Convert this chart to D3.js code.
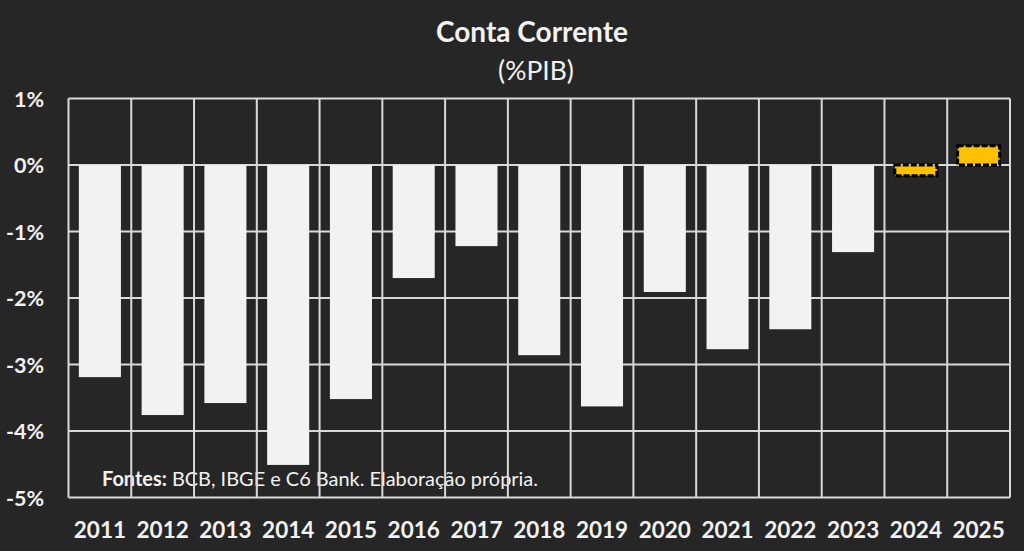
<!DOCTYPE html>
<html>
<head>
<meta charset="utf-8">
<script src="https://cdn.jsdelivr.net/npm/d3@7"></script>
<style>
html,body{margin:0;padding:0;background:#262626;}
svg{display:block;}
</style>
</head>
<body>
<svg id="chart" width="1024" height="551"></svg>
<script>
const years = ["2011","2012","2013","2014","2015","2016","2017","2018","2019","2020","2021","2022","2023","2024","2025"];
const values = [-3.19,-3.76,-3.58,-4.51,-3.52,-1.70,-1.22,-2.86,-3.63,-1.91,-2.77,-2.47,-1.31,-0.16,0.29];
const projected = [false,false,false,false,false,false,false,false,false,false,false,false,false,true,true];
const yTicks = [1,0,-1,-2,-3,-4,-5];
const title = "Conta Corrente";
const subtitle = "(%PIB)";
const sourceBold = "Fontes:";
const sourceText = " BCB, IBGE e C6 Bank. Elaboração própria.";

(function(){
const font = "Lato, 'Open Sans', sans-serif";
const svg = d3.select("#chart");
const W = 1024, H = 551;
svg.append("rect").attr("width",W).attr("height",H).attr("fill","#262626");

const pLeft = 68.5, pRight = 1010, pTop = 98.5, pBottom = 497.5;
const x = d3.scaleBand().domain(years).range([pLeft,pRight]).paddingInner(0.33).paddingOuter(0.165);
const xb = d3.scaleBand().domain(years).range([pLeft,pRight]);
const y = d3.scaleLinear().domain([-5,1]).range([pBottom,pTop]);

// title
svg.append("text").attr("x",532).attr("y",42).attr("text-anchor","middle")
  .attr("fill","#f2f2f2").attr("font-family",font).attr("font-weight","bold").attr("font-size",28).text(title);
svg.append("text").attr("x",536).attr("y",80).attr("text-anchor","middle")
  .attr("fill","#f2f2f2").attr("font-family",font).attr("font-size",26.5).text(subtitle);

// source (under gridlines)
const src = svg.append("text").attr("x",102).attr("y",486).attr("fill","#f2f2f2")
  .attr("font-family",font).attr("font-size",20).attr("textLength",436).attr("lengthAdjust","spacingAndGlyphs");
src.append("tspan").attr("font-weight","bold").text(sourceBold);
src.append("tspan").text(sourceText);

// grid
const gridColor = "#d9d9d9";
svg.append("g").selectAll("line").data(yTicks).join("line")
  .attr("x1",pLeft).attr("x2",pRight).attr("y1",d=>y(d)).attr("y2",d=>y(d))
  .attr("stroke",gridColor).attr("stroke-width",2);
const vlines = years.map(d=>xb(d)).concat([pRight]);
svg.append("g").selectAll("line").data(vlines).join("line")
  .attr("x1",d=>d).attr("x2",d=>d).attr("y1",pTop).attr("y2",pBottom)
  .attr("stroke",gridColor).attr("stroke-width",2);

// bars
svg.append("g").selectAll("rect").data(years).join("rect")
  .attr("x",d=>x(d)).attr("width",x.bandwidth())
  .attr("y",(d,i)=>y(Math.max(0,values[i])))
  .attr("height",(d,i)=>Math.abs(y(values[i])-y(0)))
  .attr("fill",(d,i)=>projected[i]?"#ffc000":"#f2f2f2")
  .attr("stroke",(d,i)=>projected[i]?"#000":"none")
  .attr("stroke-width",3)
  .attr("stroke-dasharray",(d,i)=>projected[i]?"6,2":null);

// y axis labels
const yAxis = d3.axisLeft(y).tickValues(yTicks).tickFormat(d=>d+"%").tickSize(0).tickPadding(0);
const ya = svg.append("g").attr("transform","translate(44,0)").call(yAxis);
ya.select(".domain").remove();
ya.selectAll("text").attr("fill","#f2f2f2").attr("font-family",font).attr("font-weight","bold").attr("font-size",21.5).attr("dy","0.36em");

// x axis labels
const xAxis = d3.axisBottom(xb).tickSize(0).tickPadding(0);
const xa = svg.append("g").attr("transform","translate(0,538)").call(xAxis);
xa.select(".domain").remove();
xa.selectAll("text").attr("fill","#f2f2f2").attr("font-family",font).attr("font-weight","bold").attr("font-size",22.5).attr("dy","0");
})();
</script>
</body>
</html>
